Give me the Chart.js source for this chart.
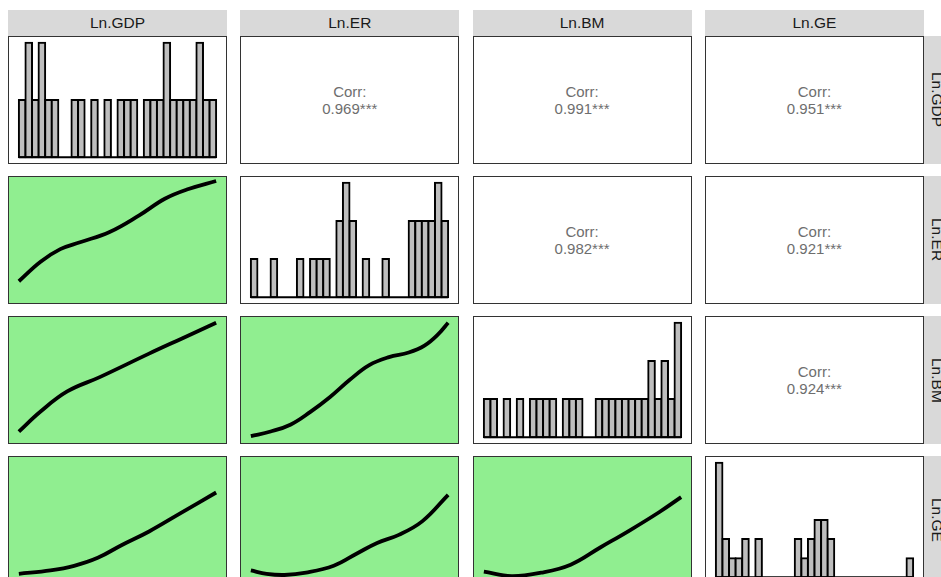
<!DOCTYPE html>
<html><head><meta charset="utf-8">
<script src="https://cdn.jsdelivr.net/npm/chart.js@4"></script>
<style>
html,body{margin:0;padding:0;background:#fff;width:941px;height:577px;overflow:hidden;font-family:"Liberation Sans",Arial,sans-serif;}
.panel{position:absolute;box-sizing:border-box;border:1px solid #333;background:#fff;overflow:hidden}
.panel canvas{position:absolute;left:0;top:0}
.strip{position:absolute;background:#d9d9d9;color:#1a1a1a;font-size:15.5px;display:flex;align-items:center;justify-content:center;white-space:nowrap}
.vstrip{writing-mode:vertical-rl}
.corr{position:absolute;left:0;right:0;top:50%;transform:translateY(-50%);text-align:center;color:#6e6e6e;font-size:15px;line-height:17px}
</style></head><body>
<script>
// ---- data ----
const variableNames = ['Ln.GDP', 'Ln.ER', 'Ln.BM', 'Ln.GE'];

// histogram counts (30 bins each) for the diagonal panels
const gdpBinCounts = [1,2,1,2,1,1,0,0,1,1,0,1,0,1,0,1,1,1,0,1,1,1,2,1,1,1,1,2,1,1];
const erBinCounts  = [1,0,0,1,0,0,0,1,0,1,1,1,0,2,3,2,0,1,0,0,1,0,0,0,2,2,2,2,3,2];
const bmBinCounts  = [1,1,0,1,0,1,0,1,1,1,1,0,1,1,1,0,0,1,1,1,1,1,1,1,1,2,1,2,1,3];
const geBinCounts  = [6,2,1,1,2,0,2,0,0,0,0,0,2,1,2,3,3,2,0,0,0,0,0,0,0,0,0,0,0,1];

// correlations for the upper panels
const corrRows   = [0, 0, 0, 1, 1, 2];
const corrCols   = [1, 2, 3, 2, 3, 3];
const corrValues = ['0.969', '0.991', '0.951', '0.982', '0.921', '0.924'];
const corrStars  = ['***', '***', '***', '***', '***', '***'];

// smooth curves for the lower panels (values scaled to each variable's range)
const erOnGdpX = [0.00,0.11,0.21,0.31,0.46,0.61,0.74,0.86,1.00];
const erOnGdpY = [0.14,0.31,0.42,0.48,0.57,0.715,0.86,0.945,1.015];
const bmOnGdpX = [0.00,0.11,0.245,0.41,0.66,0.83,1.00];
const bmOnGdpY = [0.05,0.225,0.40,0.525,0.73,0.865,1.00];
const bmOnErX  = [0.00,0.10,0.20,0.30,0.40,0.50,0.60,0.70,0.80,0.88,0.95,1.00];
const bmOnErY  = [0.01,0.05,0.11,0.22,0.35,0.50,0.63,0.70,0.74,0.80,0.90,1.00];
const geOnGdpX = [0.00,0.16,0.28,0.40,0.52,0.66,0.82,1.00];
const geOnGdpY = [0.03,0.06,0.10,0.17,0.28,0.40,0.56,0.74];
const geOnErX  = [0.00,0.08,0.17,0.28,0.42,0.54,0.64,0.75,0.87,1.00];
const geOnErY  = [0.06,0.03,0.02,0.04,0.10,0.21,0.30,0.37,0.49,0.72];
const geOnBmX  = [0.00,0.14,0.29,0.44,0.59,0.74,0.89,1.00];
const geOnBmY  = [0.05,0.01,0.04,0.11,0.26,0.41,0.57,0.70];

// ---- layout ----
const PANEL_LEFT = 8, COL_STEP = 232.3, PANEL_W = 219;
const PANEL_TOP = 36, ROW_STEP = 140, PANEL_H = 128;
const STRIP_H = 26;

const binCounts = [gdpBinCounts, erBinCounts, bmBinCounts, geBinCounts];
const smooths = [
  {r:1, c:0, x:erOnGdpX, y:erOnGdpY},
  {r:2, c:0, x:bmOnGdpX, y:bmOnGdpY},
  {r:2, c:1, x:bmOnErX,  y:bmOnErY},
  {r:3, c:0, x:geOnGdpX, y:geOnGdpY},
  {r:3, c:1, x:geOnErX,  y:geOnErY},
  {r:3, c:2, x:geOnBmX,  y:geOnBmY}
];

function panelDiv(r, c, bg) {
  const d = document.createElement('div');
  d.className = 'panel';
  d.style.left = (PANEL_LEFT + c * COL_STEP) + 'px';
  d.style.top = (PANEL_TOP + r * ROW_STEP) + 'px';
  d.style.width = PANEL_W + 'px';
  d.style.height = PANEL_H + 'px';
  d.style.background = bg;
  document.body.appendChild(d);
  return d;
}
function addCanvas(div) {
  const cv = document.createElement('canvas');
  cv.width = PANEL_W - 2; cv.height = PANEL_H - 2;
  cv.style.width = (PANEL_W - 2) + 'px'; cv.style.height = (PANEL_H - 2) + 'px';
  div.appendChild(cv);
  return cv;
}
const baseOpts = {
  responsive: false, animation: false, events: [],
  layout: {padding: 0},
  plugins: {legend: {display: false}, tooltip: {enabled: false}}
};

// strips
variableNames.forEach((name, i) => {
  const s = document.createElement('div');
  s.className = 'strip';
  s.style.left = (PANEL_LEFT + i * COL_STEP) + 'px';
  s.style.top = (PANEL_TOP - STRIP_H) + 'px';
  s.style.width = PANEL_W + 'px';
  s.style.height = STRIP_H + 'px';
  s.textContent = name;
  document.body.appendChild(s);
  const v = document.createElement('div');
  v.className = 'strip vstrip';
  v.style.left = (PANEL_LEFT + 3 * COL_STEP + PANEL_W) + 'px';
  v.style.top = (PANEL_TOP + i * ROW_STEP) + 'px';
  v.style.width = STRIP_H + 'px';
  v.style.height = PANEL_H + 'px';
  v.textContent = name;
  document.body.appendChild(v);
});

// diagonal histograms
binCounts.forEach((counts, i) => {
  const div = panelDiv(i, i, '#fff');
  const cv = addCanvas(div);
  const maxC = Math.max(...counts);
  const n = counts.length;
  new Chart(cv, {
    type: 'bar',
    data: {datasets: [
      {type: 'line', data: [{x: 0, y: 0}, {x: n, y: 0}], borderColor: '#000', borderWidth: 2,
       pointRadius: 0, order: 0},
      {data: counts.map((c, k) => ({x: k + 0.5, y: c === 0 ? null : c})),
       backgroundColor: '#bebebe', borderColor: '#000', borderWidth: 2, inflateAmount: 1,
       borderSkipped: false, barPercentage: 1, categoryPercentage: 1, order: 1}
    ]},
    options: Object.assign({}, baseOpts, {
      scales: {
        x: {type: 'linear', display: false, offset: false, min: -0.05 * n, max: 1.05 * n},
        y: {display: false, min: -0.05 * maxC, max: 1.05 * maxC}
      }
    })
  });
});

// upper correlation panels
corrRows.forEach((r, k) => {
  const div = panelDiv(r, corrCols[k], '#fff');
  const t = document.createElement('div');
  t.className = 'corr';
  t.innerHTML = 'Corr:<br>' + corrValues[k] + corrStars[k];
  div.appendChild(t);
});

// lower smooth panels
smooths.forEach(s => {
  const div = panelDiv(s.r, s.c, '#90ee90');
  const cv = addCanvas(div);
  new Chart(cv, {
    type: 'scatter',
    data: {datasets: [{
      data: s.x.map((x, k) => ({x: x, y: s.y[k]})),
      showLine: true, borderColor: '#000', borderWidth: 3.8, pointRadius: 0,
      tension: 0.4, borderCapStyle: 'butt', borderJoinStyle: 'round'
    }]},
    options: Object.assign({}, baseOpts, {
      scales: {
        x: {type: 'linear', display: false, min: -0.05, max: 1.05},
        y: {type: 'linear', display: false, min: -0.05, max: 1.05}
      }
    })
  });
});
</script>
</body></html>
